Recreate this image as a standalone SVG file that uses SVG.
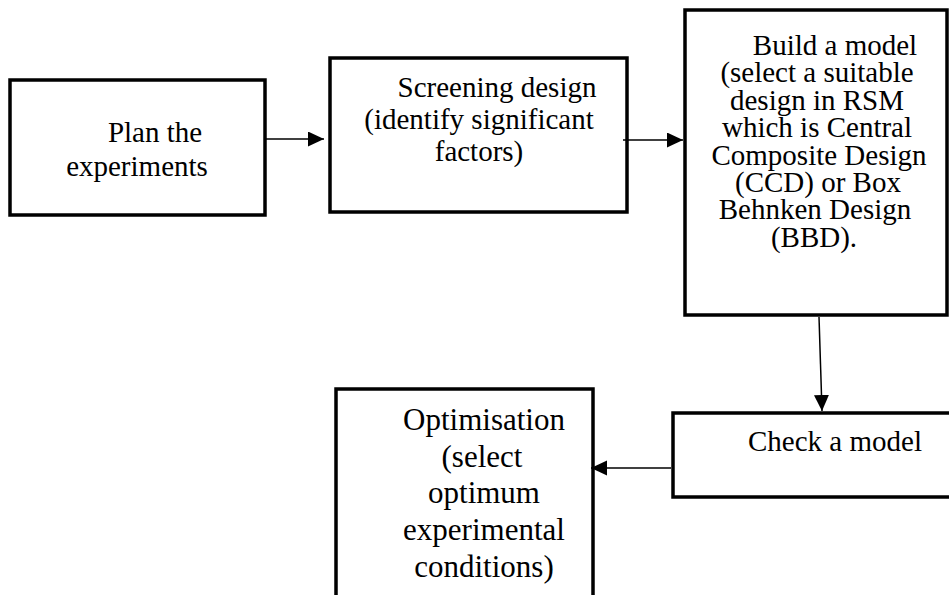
<svg xmlns="http://www.w3.org/2000/svg" width="949" height="595" viewBox="0 0 949 595">
  <style>
    .box { fill: #ffffff; stroke: #000000; stroke-width: 3.5; stroke-linejoin: miter; }
    .lbl { font-family: "Liberation Serif", "Times New Roman", serif; font-size: 29px; fill: #000000; text-anchor: middle; }
    .big { font-size: 31px; }
    .edge { fill: none; stroke: #000000; stroke-width: 1.5; }
  </style>
  <defs>
    <marker id="arrow" markerUnits="userSpaceOnUse" markerWidth="18" markerHeight="16" refX="16" refY="7.5" orient="auto">
      <path d="M0,0 L16,7.5 L0,15 Z" fill="#000000"/>
    </marker>
  </defs>
  <rect width="949" height="595" fill="#ffffff"/>

  <!-- step 1 -->
  <g id="plan">
    <rect class="box" x="10" y="80" width="255" height="135"/>
    <text class="lbl"><tspan x="155" y="142">Plan the</tspan><tspan x="137" y="176">experiments</tspan></text>
  </g>

  <!-- step 2 -->
  <g id="screening">
    <rect class="box" x="330" y="58" width="297" height="154"/>
    <text class="lbl"><tspan x="497" y="97">Screening design</tspan><tspan x="479" y="129">(identify significant</tspan><tspan x="479" y="161">factors)</tspan></text>
  </g>

  <!-- step 3 -->
  <g id="build">
    <rect class="box" x="685" y="10" width="262" height="305"/>
    <text class="lbl"><tspan x="835" y="55">Build a model</tspan><tspan x="817" y="82">(select a suitable</tspan><tspan x="817" y="110">design in RSM</tspan><tspan x="817" y="137">which is Central</tspan><tspan x="819" y="165">Composite Design</tspan><tspan x="818" y="192">(CCD) or Box</tspan><tspan x="815" y="219">Behnken Design</tspan><tspan x="814" y="247">(BBD).</tspan></text>
  </g>

  <!-- step 4 -->
  <g id="check">
    <rect class="box" x="673" y="413" width="290" height="84"/>
    <text class="lbl" x="835" y="451">Check a model</text>
  </g>

  <!-- step 5 -->
  <g id="optimisation">
    <rect class="box" x="336" y="389" width="257" height="230"/>
    <text class="lbl big"><tspan x="484" y="430">Optimisation</tspan><tspan x="482" y="467">(select</tspan><tspan x="484" y="503">optimum</tspan><tspan x="484" y="540">experimental</tspan><tspan x="484" y="577">conditions)</tspan></text>
  </g>

  <!-- connectors -->
  <g id="connectors">
    <line class="edge" x1="266" y1="139" x2="324" y2="139" marker-end="url(#arrow)"/>
    <line class="edge" x1="623" y1="140" x2="683" y2="140" marker-end="url(#arrow)"/>
    <line class="edge" x1="819" y1="317" x2="822" y2="411" marker-end="url(#arrow)"/>
    <line class="edge" x1="671" y1="468" x2="591" y2="468" marker-end="url(#arrow)"/>
  </g>
</svg>
